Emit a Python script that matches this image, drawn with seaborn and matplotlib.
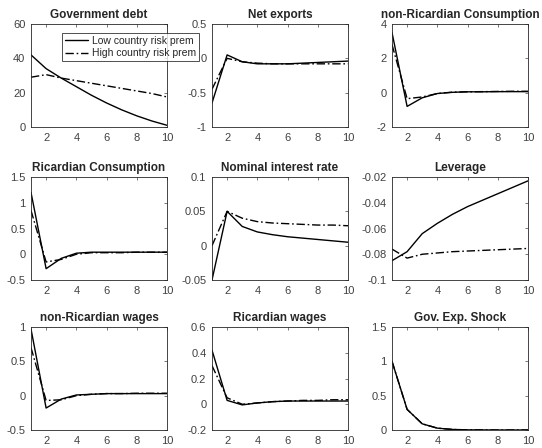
import numpy as np
import pandas as pd
import matplotlib
matplotlib.use("Agg")
import matplotlib.pyplot as plt
import seaborn as sns

periods = list(range(1, 11))

titles = ["Government debt", "Net exports", "non-Ricardian Consumption",
          "Ricardian Consumption", "Nominal interest rate", "Leverage",
          "non-Ricardian wages", "Ricardian wages", "Gov. Exp. Shock"]

low_risk = [
    [42, 34, 28.5, 23.5, 18.5, 14, 10, 6.5, 3.5, 1],
    [-0.65, 0.05, -0.05, -0.08, -0.08, -0.08, -0.07, -0.06, -0.05, -0.04],
    [3.5, -0.8, -0.3, -0.05, 0.02, 0.05, 0.05, 0.06, 0.06, 0.06],
    [1.2, -0.28, -0.08, 0.02, 0.04, 0.04, 0.04, 0.04, 0.04, 0.04],
    [-0.05, 0.05, 0.028, 0.02, 0.016, 0.013, 0.011, 0.009, 0.007, 0.005],
    [-0.085, -0.078, -0.064, -0.056, -0.049, -0.043, -0.038, -0.033, -0.028, -0.023],
    [0.97, -0.18, -0.05, 0.01, 0.02, 0.03, 0.03, 0.03, 0.03, 0.03],
    [0.42, 0.03, -0.005, 0.01, 0.02, 0.025, 0.025, 0.025, 0.025, 0.025],
    [1.0, 0.3, 0.09, 0.027, 0.008, 0.002, 0.001, 0.0, 0.0, 0.0],
]

high_risk = [
    [29, 30.5, 28.5, 27, 25.5, 24, 22.5, 21, 19.5, 17.5],
    [-0.45, 0.0, -0.05, -0.07, -0.08, -0.08, -0.08, -0.08, -0.08, -0.08],
    [2.8, -0.35, -0.25, -0.05, 0.03, 0.05, 0.06, 0.07, 0.08, 0.08],
    [0.85, -0.15, -0.1, 0.0, 0.03, 0.03, 0.03, 0.04, 0.04, 0.04],
    [0.0, 0.05, 0.04, 0.035, 0.033, 0.032, 0.031, 0.030, 0.030, 0.029],
    [-0.076, -0.083, -0.080, -0.079, -0.078, -0.0775, -0.077, -0.0765, -0.076, -0.0755],
    [0.7, -0.07, -0.06, 0.0, 0.02, 0.03, 0.03, 0.035, 0.035, 0.035],
    [0.3, 0.05, 0.0, 0.01, 0.02, 0.025, 0.03, 0.03, 0.035, 0.035],
    [1.0, 0.3, 0.09, 0.027, 0.008, 0.002, 0.001, 0.0, 0.0, 0.0],
]

y_ticks = [
    [0, 20, 40, 60],
    [-1, -0.5, 0, 0.5],
    [-2, 0, 2, 4],
    [-0.5, 0, 0.5, 1, 1.5],
    [-0.05, 0, 0.05, 0.1],
    [-0.1, -0.08, -0.06, -0.04, -0.02],
    [-0.5, 0, 0.5, 1],
    [-0.2, 0, 0.2, 0.4, 0.6],
    [0, 0.5, 1, 1.5],
]

sns.set_style("white")
plt.rcParams['font.family'] = ['Liberation Sans', 'DejaVu Sans']

fig = plt.figure(figsize=(5.42, 4.48), dpi=100)

lefts = [31 / 542, 212 / 542, 392 / 542]
bottoms = [321 / 448, 168 / 448, 18 / 448]
w, h = 136 / 542, 103 / 448

gray = "#262626"
for i in range(9):
    r, c = divmod(i, 3)
    ax = fig.add_axes([lefts[c], bottoms[r], w, h])
    df = pd.DataFrame({"t": periods, "low": low_risk[i], "high": high_risk[i]})
    sns.lineplot(data=df, x="t", y="low", ax=ax, color="k", lw=1.0,
                 label="Low country risk prem")
    sns.lineplot(data=df, x="t", y="high", ax=ax, color="k", lw=1.0,
                 linestyle=(0, (6, 2, 1.2, 2)), label="High country risk prem")
    ax.set_xlim(1, 10)
    ax.set_xticks([2, 4, 6, 8, 10])
    yt = y_ticks[i]
    ax.set_ylim(yt[0], yt[-1])
    ax.set_yticks(yt)
    ax.set_yticklabels([f"{v:g}" for v in yt])
    ax.set_xlabel("")
    ax.set_ylabel("")
    ax.set_title(titles[i], fontsize=8.5, fontweight="bold", pad=4.5)
    ax.tick_params(direction="in", length=2.5, width=0.5, labelsize=8,
                   colors="#404040", top=True, right=True, pad=4)
    for sp in ax.spines.values():
        sp.set_color(gray)
        sp.set_linewidth(0.6)
    if i == 0:
        leg = ax.legend(loc="upper left", bbox_to_anchor=(62 / 542, 1 - 33 / 448),
                        bbox_transform=fig.transFigure, fontsize=7.5,
                        frameon=True, fancybox=False, handlelength=2.2,
                        borderpad=0.3, labelspacing=0.2, handletextpad=0.4,
                        borderaxespad=0)
        leg.get_frame().set_edgecolor("k")
        leg.get_frame().set_linewidth(0.6)
    else:
        ax.get_legend().remove()

fig.savefig("out.png", dpi=100)
